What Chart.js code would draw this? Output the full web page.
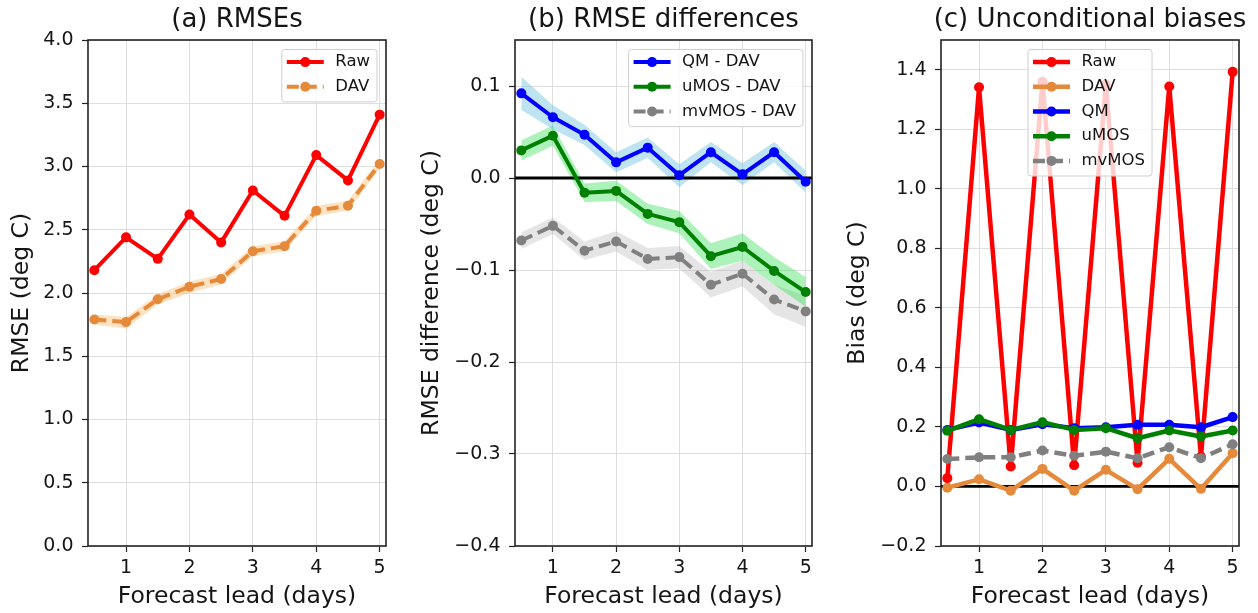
<!DOCTYPE html>
<html lang="en">
<head>
<meta charset="UTF-8"/>
<title>RMSEs, RMSE differences and biases</title>
<script src="https://cdn.jsdelivr.net/npm/chart.js"></script>
<style>
  body { margin: 0; background: #fff; }
  #wrap { position: relative; width: 1258px; height: 613px; }
  canvas { position: absolute; top: 0; }
</style>
</head>
<body>
<div id="wrap">
  <canvas id="rmse" width="400" height="613" style="left:0px"></canvas>
  <canvas id="diff" width="416" height="613" style="left:410px"></canvas>
  <canvas id="bias" width="428" height="613" style="left:830px"></canvas>
</div>
<script>
// forecast lead (days), every half day
const leads = [0.5, 1, 1.5, 2, 2.5, 3, 3.5, 4, 4.5, 5];
const leadTicks = [1, 2, 3, 4, 5];

// (a) RMSEs
const rmseRaw   = [2.18, 2.44, 2.27, 2.62, 2.40, 2.81, 2.61, 3.09, 2.89, 3.41];
const rmseDav   = [1.79, 1.77, 1.95, 2.05, 2.11, 2.33, 2.37, 2.65, 2.69, 3.02];
const rmseDavLo = [1.75, 1.72, 1.91, 2.00, 2.07, 2.29, 2.33, 2.61, 2.65, 2.98];
const rmseDavHi = [1.83, 1.81, 1.99, 2.09, 2.15, 2.37, 2.41, 2.69, 2.73, 3.06];
const rmseTicks = [0, 0.5, 1, 1.5, 2, 2.5, 3, 3.5, 4];

// (b) RMSE differences vs DAV
const diffQm      = [0.092, 0.066, 0.047, 0.017, 0.033, 0.003, 0.028, 0.004, 0.028, -0.004];
const diffQmLo    = [0.074, 0.053, 0.036, 0.006, 0.022, -0.010, 0.017, -0.008, 0.017, -0.016];
const diffQmHi    = [0.110, 0.079, 0.058, 0.028, 0.044, 0.015, 0.039, 0.016, 0.039, 0.008];
const diffUmos    = [0.030, 0.046, -0.016, -0.014, -0.039, -0.048, -0.085, -0.075, -0.101, -0.124];
const diffUmosLo  = [0.019, 0.035, -0.026, -0.025, -0.050, -0.060, -0.099, -0.090, -0.116, -0.140];
const diffUmosHi  = [0.041, 0.057, -0.006, -0.003, -0.028, -0.036, -0.071, -0.060, -0.086, -0.108];
const diffMvmos   = [-0.068, -0.052, -0.079, -0.069, -0.088, -0.086, -0.116, -0.104, -0.132, -0.145];
const diffMvmosLo = [-0.077, -0.061, -0.089, -0.080, -0.100, -0.098, -0.130, -0.118, -0.148, -0.162];
const diffMvmosHi = [-0.059, -0.043, -0.069, -0.058, -0.076, -0.074, -0.102, -0.090, -0.116, -0.128];
const diffTicks = [-0.4, -0.3, -0.2, -0.1, 0, 0.1];

// (c) unconditional biases
const biasRaw   = [0.028, 1.341, 0.067, 1.36, 0.071, 1.35, 0.080, 1.344, 0.100, 1.393];
const biasDav   = [-0.004, 0.024, -0.014, 0.059, -0.014, 0.056, -0.009, 0.093, -0.008, 0.112];
const biasQm    = [0.190, 0.215, 0.190, 0.209, 0.196, 0.199, 0.207, 0.207, 0.199, 0.233];
const biasUmos  = [0.187, 0.226, 0.190, 0.216, 0.190, 0.196, 0.162, 0.188, 0.168, 0.188];
const biasMvmos = [0.092, 0.098, 0.098, 0.121, 0.103, 0.117, 0.095, 0.132, 0.095, 0.142];
const biasTicks = [-0.2, 0, 0.2, 0.4, 0.6, 0.8, 1.0, 1.2, 1.4];

const FONT = 'DejaVu Sans';
const TXT = '#151515';
const COL = { raw: '#ff0000', dav: '#e5893a', qm: '#0000ff', umos: '#008000', mvmos: '#808080' };
const BAND = {
  dav: 'rgba(253,190,120,0.45)',
  qm: 'rgba(110,195,225,0.45)',
  umos: 'rgba(60,225,90,0.42)',
  mvmos: 'rgba(170,170,170,0.30)'
};

Chart.defaults.font.family = FONT;

const pts = arr => leads.map((x, i) => ({ x: x, y: arr[i] }));

// one plotted series; earlier ones sit under later ones like in matplotlib
function series(label, arr, color, dashed, order, lw) {
  return {
    label: label, data: pts(arr), inLegend: true,
    borderColor: color, backgroundColor: color,
    borderWidth: lw, borderDash: dashed ? [12, 6] : [],
    borderJoinStyle: 'round', borderCapStyle: 'butt',
    pointRadius: 5, pointBackgroundColor: color, pointBorderWidth: 0,
    fill: false, tension: 0, order: order
  };
}

// shaded range between lo and hi
function band(lo, hi, color) {
  return [
    { data: pts(lo), borderWidth: 0, pointRadius: 0, fill: false, order: 100 },
    { data: pts(hi), borderWidth: 0, pointRadius: 0, fill: '-1', backgroundColor: color, order: 100 }
  ];
}

const fmt = v => v.toFixed(1).replace('-', '\u2212');

function gridOpts() {
  return { color: '#dedede', lineWidth: 1, tickColor: '#222', tickLength: 6, tickWidth: 1.2 };
}

function xScale() {
  return {
    type: 'linear', min: 0.4, max: 5.1,
    afterBuildTicks: s => { s.ticks = leadTicks.map(v => ({ value: v })); },
    afterFit: s => { s.height = 67; },
    ticks: { font: { size: 19 }, color: TXT, padding: 4.5, maxRotation: 0, callback: v => String(v) },
    grid: gridOpts(),
    border: { display: false },
    title: { display: true, text: 'Forecast lead (days)', color: TXT,
             font: { size: 23.5 }, padding: { top: 0, bottom: 2 } }
  };
}

function yScale(min, max, ticks, title, titlePad, width) {
  return {
    type: 'linear', min: min, max: max,
    afterBuildTicks: s => { s.ticks = ticks.map(v => ({ value: v })); },
    afterFit: s => { s.width = width; },
    ticks: { font: { size: 19 }, color: TXT, padding: 8.5, callback: v => fmt(v) },
    grid: gridOpts(),
    border: { display: false },
    title: { display: true, text: title, color: TXT,
             font: { size: 23.5 }, padding: { top: titlePad, bottom: 0 } }
  };
}

// title centred over the axes, frame, zero line and boxed legend
const panelDecor = {
  id: 'panelDecor',
  beforeDatasetsDraw(chart, args, opts) {
    if (!opts.zeroLine) return;
    const a = chart.chartArea, ctx = chart.ctx;
    const y = chart.scales.y.getPixelForValue(0);
    ctx.save();
    ctx.strokeStyle = '#000'; ctx.lineWidth = 2.8;
    ctx.beginPath(); ctx.moveTo(a.left, y); ctx.lineTo(a.right, y); ctx.stroke();
    ctx.restore();
  },
  afterDatasetsDraw(chart) {
    const a = chart.chartArea, ctx = chart.ctx;
    ctx.save();
    ctx.strokeStyle = '#222'; ctx.lineWidth = 1.6;
    ctx.strokeRect(a.left, a.top, a.right - a.left, a.bottom - a.top);
    ctx.restore();
  },
  afterDraw(chart, args, opts) {
    const a = chart.chartArea, ctx = chart.ctx;
    ctx.save();
    ctx.fillStyle = TXT;
    ctx.font = '26px "' + FONT + '"';
    ctx.textAlign = 'center'; ctx.textBaseline = 'middle';
    ctx.fillText(opts.title, (a.left + a.right) / 2, 20);

    const items = chart.data.datasets.filter(d => d.inLegend);
    ctx.font = '16.5px "' + FONT + '"';
    const textW = Math.max(...items.map(d => ctx.measureText(d.label).width));
    const rowH = 24.7, handle = 37, padL = 5, gap = 11.5, padR = 7;
    const w = padL + handle + gap + textW + padR;
    const h = items.length * rowH + 3;
    const left = opts.legendAlign === 'center' ? (a.left + a.right - w) / 2 : a.right - 9 - w;
    const top = a.top + 9.5;
    ctx.beginPath();
    ctx.roundRect(left, top, w, h, 3);
    ctx.fillStyle = 'rgba(255,255,255,0.8)'; ctx.fill();
    ctx.strokeStyle = '#cfcfcf'; ctx.lineWidth = 1; ctx.stroke();
    items.forEach((d, i) => {
      const y = top + 12.6 + i * rowH, x0 = left + padL;
      ctx.beginPath();
      ctx.setLineDash(d.borderDash);
      ctx.strokeStyle = d.borderColor; ctx.lineWidth = d.borderWidth;
      ctx.moveTo(x0, y); ctx.lineTo(x0 + handle, y); ctx.stroke();
      ctx.setLineDash([]);
      ctx.beginPath(); ctx.arc(x0 + handle / 2, y, 5, 0, Math.PI * 2);
      ctx.fillStyle = d.borderColor; ctx.fill();
      ctx.fillStyle = TXT; ctx.textAlign = 'left'; ctx.textBaseline = 'middle';
      ctx.fillText(d.label, x0 + handle + gap, y);
    });
    ctx.restore();
  }
};

function makePanel(id, datasets, y, padRight, decor) {
  new Chart(document.getElementById(id), {
    type: 'line',
    data: { datasets: datasets },
    options: {
      responsive: false, animation: false, devicePixelRatio: 1,
      layout: { padding: { top: 40, right: padRight, bottom: 0, left: 0 } },
      scales: { x: xScale(), y: y },
      plugins: {
        legend: { display: false }, tooltip: { enabled: false },
        filler: { drawTime: 'beforeDatasetsDraw' },
        panelDecor: decor
      }
    },
    plugins: [panelDecor]
  });
}

makePanel('rmse', [
  series('Raw', rmseRaw, COL.raw, false, 2, 4),
  series('DAV', rmseDav, COL.dav, true, 1, 4),
  ...band(rmseDavLo, rmseDavHi, BAND.dav)
], yScale(0, 4, rmseTicks, 'RMSE (deg C)', 8, 88), 14,
  { title: '(a) RMSEs', legendAlign: 'right', zeroLine: false });

makePanel('diff', [
  series('QM - DAV', diffQm, COL.qm, false, 3, 4),
  series('uMOS - DAV', diffUmos, COL.umos, false, 2, 4),
  series('mvMOS - DAV', diffMvmos, COL.mvmos, true, 1, 4),
  ...band(diffQmLo, diffQmHi, BAND.qm),
  ...band(diffUmosLo, diffUmosHi, BAND.umos),
  ...band(diffMvmosLo, diffMvmosHi, BAND.mvmos)
], yScale(-0.4, 0.15, diffTicks, 'RMSE difference (deg C)', 8, 105), 14,
  { title: '(b) RMSE differences', legendAlign: 'right', zeroLine: true });

makePanel('bias', [
  series('Raw', biasRaw, COL.raw, false, 5, 4.5),
  series('DAV', biasDav, COL.dav, false, 4, 4.5),
  series('QM', biasQm, COL.qm, false, 3, 4.5),
  series('uMOS', biasUmos, COL.umos, false, 2, 4.5),
  series('mvMOS', biasMvmos, COL.mvmos, true, 1, 4.5)
], yScale(-0.2, 1.5, biasTicks, 'Bias (deg C)', 14, 111), 19,
  { title: '(c) Unconditional biases', legendAlign: 'center', zeroLine: true });
</script>
</body>
</html>
